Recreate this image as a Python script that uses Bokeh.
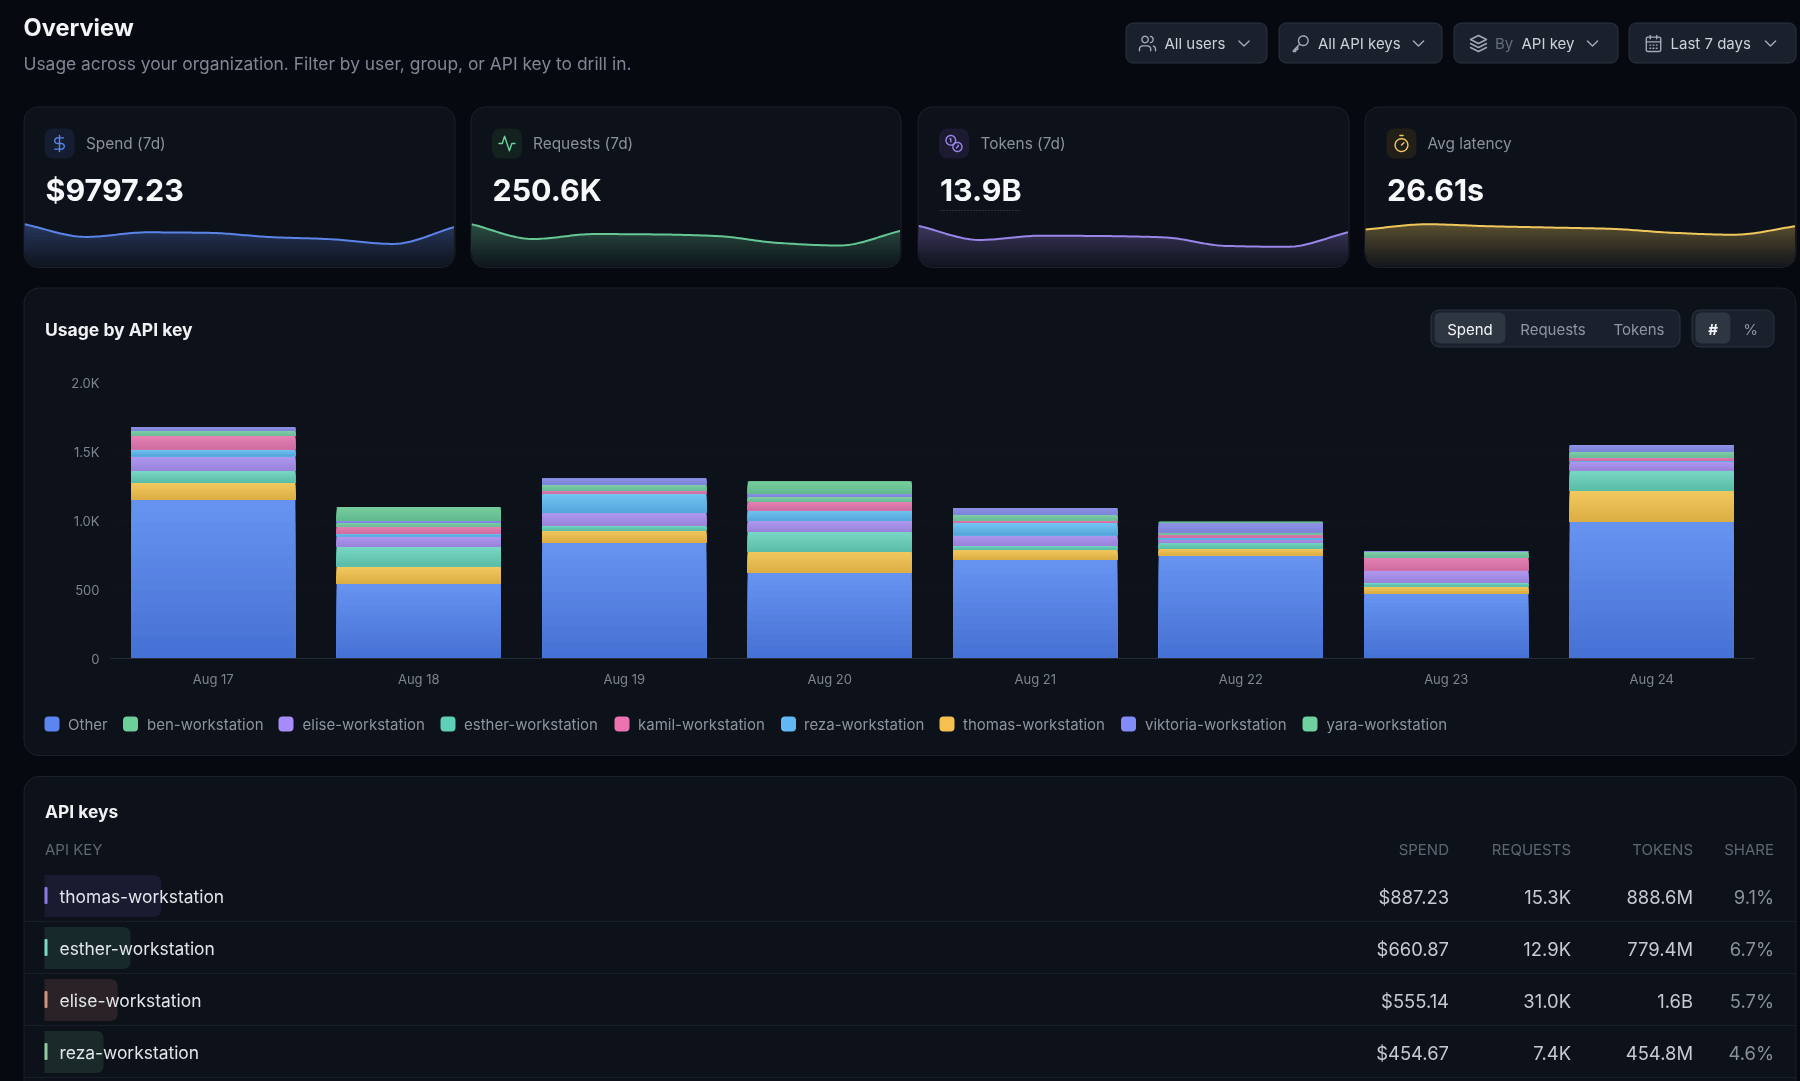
import numpy as np
from bokeh.core.properties import value
from bokeh.embed import file_html
from bokeh.resources import INLINE
from bokeh.models import ColumnDataSource, FactorRange, FixedTicker, Range1d
from bokeh.plotting import figure

# ---------- data ----------
days = ["Aug 17", "Aug 18", "Aug 19", "Aug 20", "Aug 21", "Aug 22", "Aug 23", "Aug 24"]
other    = [1151, 541, 839, 621, 715, 749, 470, 991]
thomas   = [121, 126, 90, 153, 75, 48, 53, 225]
esther   = [87, 145, 36, 143, 29, 46, 27, 148]
elise    = [107, 73, 90, 80, 75, 19, 85, 61]
reza     = [51, 19, 141, 78, 90, 17, 5, 10]
kamil    = [95, 53, 22, 63, 17, 22, 92, 22]
yara     = [41, 27, 44, 32, 44, 10, 41, 44]
viktoria = [22, 15, 44, 22, 46, 70, 5, 46]
ben      = [0, 99, 0, 92, 0, 10, 0, 0]
y_ticks = [0, 500, 1000, 1500, 2000]
y_tick_labels = ["0", "500", "1.0K", "1.5K", "2.0K"]

stack_names = ["Other", "thomas-workstation", "esther-workstation", "elise-workstation", "reza-workstation",
               "kamil-workstation", "yara-workstation", "viktoria-workstation", "ben-workstation"]
stack_values = [other, thomas, esther, elise, reza, kamil, yara, viktoria, ben]
legend_names = ["Other", "ben-workstation", "elise-workstation", "esther-workstation", "kamil-workstation",
                "reza-workstation", "thomas-workstation", "viktoria-workstation", "yara-workstation"]

spark_requests = [57.5, 24.3, 35.4, 34.6, 31.0, 15.5, 9.6, 42.7]
spark_tokens = [3.37, 1.39, 1.99, 1.94, 1.75, 0.55, 0.42, 2.49]
spark_latency = [26.41, 28.01, 27.41, 27.01, 26.61, 25.41, 24.81, 27.41]

card_labels = ["Spend (7d)", "Requests (7d)", "Tokens (7d)", "Avg latency"]
card_values = ["$9797.23", "250.6K", "13.9B", "26.61s"]

table_keys = ["thomas-workstation", "esther-workstation", "elise-workstation", "reza-workstation"]
table_spend = ["$887.23", "$660.87", "$555.14", "$454.67"]
table_requests = ["15.3K", "12.9K", "31.0K", "7.4K"]
table_tokens = ["888.6M", "779.4M", "1.6B", "454.8M"]
table_share = [9.1, 6.7, 5.7, 4.6]

# ---------- styles ----------
PAGE = "#070910"
PANEL = "#0d1119"
BORDER = "#1b212b"
FONT = "Inter"
BAR_TOP = {"Other": "#6692f0", "thomas-workstation": "#f1c85e", "esther-workstation": "#79d7c5",
           "elise-workstation": "#af97ee", "reza-workstation": "#74c4f2", "kamil-workstation": "#e581b2",
           "yara-workstation": "#7fd0a8", "viktoria-workstation": "#8d92e6", "ben-workstation": "#76cd9c"}
BAR_BOT = {"Other": "#4772d5", "thomas-workstation": "#dcae44", "esther-workstation": "#5abda7",
           "elise-workstation": "#9a84db", "reza-workstation": "#55a7db", "kamil-workstation": "#cf6ea3",
           "yara-workstation": "#6cbb98", "viktoria-workstation": "#7e84d9", "ben-workstation": "#62ba90"}
LEGEND_COL = {"Other": "#5b84f0", "ben-workstation": "#6ccf9a", "elise-workstation": "#a78bfa",
              "esther-workstation": "#5fd0b8", "kamil-workstation": "#ec72b0", "reza-workstation": "#60b8f5",
              "thomas-workstation": "#f5c04f", "viktoria-workstation": "#818cf8", "yara-workstation": "#6fd0a0"}


def hex2rgb(h):
    return np.array([int(h[i:i + 2], 16) for i in (1, 3, 5)], float)


def mix(a, b, t):
    c = hex2rgb(a) * (1 - t) + hex2rgb(b) * t
    return "#%02x%02x%02x" % tuple(int(round(v)) for v in c)


def fixed(x, y):
    return {"position": "fixed", "left": f"{x}px", "top": f"{y}px"}


# ---------- background page layer (pixel space, 2px past each window edge) ----------
bg = figure(width=1804, height=1085, x_range=Range1d(-2, 1802), y_range=Range1d(1083, -2),
            output_backend="svg", toolbar_location=None, min_border=0,
            background_fill_color=PAGE, border_fill_color=PAGE, outline_line_color=None, styles=fixed(-2, -2))
bg.axis.visible = False
bg.grid.visible = False


def box(l, r, t, b, fill, line=None, radius=0, alpha=1.0):
    bg.quad(left=[l], right=[r], top=[t], bottom=[b], fill_color=fill, fill_alpha=alpha,
            line_color=line, line_width=1 if line else 0, border_radius=radius)


def txt(x, y, s, size, color, align="left", bold=False):
    bg.text(x=[x], y=[y - 1], text=[s], text_font=value(FONT), text_font_size=f"{size}px", text_color=color,
            text_align=align, text_baseline="middle", text_font_style="bold" if bold else "normal")


def arc(cx, cy, r, a0, a1, n=14):
    a = np.radians(np.linspace(a0, a1, n))
    return list(zip(cx + r * np.cos(a), cy + r * np.sin(a)))


def circ(cx, cy, r):
    return arc(cx, cy, r, 0, 360, 28)


ICONS = {
    "dollar": [[(12, 2), (12, 22)],
               [(17, 5), (9.5, 5)] + arc(9.5, 8.5, 3.5, -90, -270) + [(14.5, 12)] + arc(14.5, 15.5, 3.5, -90, 90) + [(6, 19)]],
    "activity": [[(22, 12), (18, 12), (15, 21), (9, 3), (6, 12), (2, 12)]],
    "coins": [circ(8, 8, 6), circ(16.3, 16.3, 5.7), [(7, 6), (8, 6), (8, 10)], [(17, 14.2), (17.6, 15), (15, 17.6)]],
    "timer": [[(10, 2), (14, 2)], [(12, 14), (15, 11)], circ(12, 14, 8)],
    "users": [circ(9, 7, 4), [(16, 21), (16, 19)] + arc(12, 19, 4, 0, -90) + arc(6, 19, 4, -90, -180) + [(2, 21)],
              arc(15, 7, 4, -80, 80), [(22, 21), (22, 19)] + arc(18, 19, 4, 0, -70)],
    "key": [circ(15.5, 8.5, 6), [(11, 13), (3, 21), (3, 22), (6, 22), (6, 19.5), (8.5, 19.5), (8.5, 16.5)]],
    "layers": [[(12, 2), (22, 7), (12, 12), (2, 7), (12, 2)], [(2, 12), (12, 17), (22, 12)], [(2, 17), (12, 22), (22, 17)]],
    "calendar": [[(5, 4), (19, 4)] + arc(19, 6, 2, -90, 0, 5) + arc(19, 20, 2, 0, 90, 5) + arc(5, 20, 2, 90, 180, 5) + arc(5, 6, 2, 180, 270, 5),
                 [(16, 2), (16, 6)], [(8, 2), (8, 6)], [(3, 10), (21, 10)],
                 [(7.5, 14), (8.5, 14)], [(11.5, 14), (12.5, 14)], [(15.5, 14), (16.5, 14)],
                 [(7.5, 18), (8.5, 18)], [(11.5, 18), (12.5, 18)], [(15.5, 18), (16.5, 18)]],
    "chevron": [[(6, 9), (12, 15), (18, 9)]],
}


def icon(name, cx, cy, color, scale=0.8, width=1.4):
    xs, ys = [], []
    for poly in ICONS[name]:
        xs.append([cx + (px - 12) * scale for px, _ in poly])
        ys.append([cy + (py - 12) * scale for _, py in poly])
    bg.multi_line(xs=xs, ys=ys, line_color=color, line_width=width, line_join="round", line_cap="round")


# header
txt(23, 28, "Overview", 23.6, "#f3f4f6", bold=True)
txt(23, 64, "Usage across your organization. Filter by user, group, or API key to drill in.", 17.4, "#7f8694")

BTN_FILL, BTN_LINE = "#1a212c", "#2b3441"
ICON_COL, BTN_TXT = "#a3aab6", "#cdd2da"
for (l, r, ic, ix, tx, label, chev) in [
    (1125, 1266, "users", 1147, 1164, "All users", 1243.5),
    (1278, 1441, "key", 1300, 1317.5, "All API keys", 1418),
    (1453, 1617, "layers", 1478, 1521, "API key", 1592),
    (1628, 1795, "calendar", 1653, 1670, "Last 7 days", 1770),
]:
    box(l + .5, r + .5, 22.5, 62.5, BTN_FILL, BTN_LINE, 7)
    icon(ic, ix, 43, ICON_COL)
    txt(tx, 43.5, label, 15, BTN_TXT)
    icon("chevron", chev, 43, ICON_COL, scale=0.85)
txt(1494.5, 43.5, "By", 15, "#646c79")

# cards
CARDS = [(23, 454), (470, 900), (917, 1348), (1364, 1795)]
ICON_X = [59, 506.5, 953.5, 1401]
LABEL_X = [85.5, 532.5, 980, 1427]
VALUE_X = [45, 492, 939.5, 1386.5]
TILE = ["#141d31", "#13221f", "#1b1a31", "#221f18"]
ICON_NAME = ["dollar", "activity", "coins", "timer"]
ICON_COLOR = ["#5b84e8", "#6fd0a0", "#9a85e8", "#f0c75c"]
for i, (l, r) in enumerate(CARDS):
    box(l + .5, r + .5, 106.5, 267, PANEL, BORDER, 14)
    box(ICON_X[i] - 15, ICON_X[i] + 15, 128, 158, TILE[i], None, 8)
    icon(ICON_NAME[i], ICON_X[i], 143, ICON_COLOR[i])
    txt(LABEL_X[i], 144, card_labels[i], 15.4, "#8a909c")
    txt(VALUE_X[i], 190, card_values[i], 30.4, "#f7f8f9", bold=True)
bg.line(x=[940, 1020.5], y=[210, 210], line_color="#4d5461", line_width=1, line_dash=[1, 2])

# chart panel
box(23.5, 1795.5, 287.5, 755, PANEL, BORDER, 15)
txt(44.5, 329.5, "Usage by API key", 17.5, "#f0f1f3", bold=True)
box(1430.5, 1679.5, 309.5, 346.5, BTN_FILL, BTN_LINE, 8)
box(1434, 1505, 312, 343, "#2d3641", None, 6)
txt(1469.5, 329.5, "Spend", 15, "#f3f4f6", "center")
txt(1552.5, 329.5, "Requests", 15, "#8f96a3", "center")
txt(1638.5, 329.5, "Tokens", 15, "#8f96a3", "center")
box(1691.5, 1773.5, 309.5, 346.5, BTN_FILL, BTN_LINE, 8)
box(1695, 1730, 312, 343, "#2d3641", None, 6)
txt(1712.5, 329.5, "#", 15, "#f3f4f6", "center", bold=True)
txt(1750, 329.5, "%", 15, "#8f96a3", "center")

LEGEND_X = [44, 122.5, 278, 440, 614, 780.5, 939, 1120.5, 1302]
LEGEND_TX = [67.5, 146.5, 302, 463.5, 637.5, 803.5, 962.5, 1144.5, 1326]
for name, cx, tx in zip(legend_names, LEGEND_X, LEGEND_TX):
    box(cx, cx + 15, 716, 731, LEGEND_COL[name], None, 4)
    txt(tx, 725, name, 15, "#8d939f")

# table panel
box(23.5, 1795.5, 776, 1095, PANEL, BORDER, 15)
txt(44.5, 812, "API keys", 17.4, "#f0f1f3", bold=True)
HEAD = "#5f6672"
txt(44.5, 850, "API KEY", 15, HEAD)
COLS = [1448.5, 1570.5, 1692.5, 1773.5]
for x, h in zip(COLS, ["SPEND", "REQUESTS", "TOKENS", "SHARE"]):
    txt(x, 850, h, 15, HEAD, "right")

ROW_Y = [895.5, 947.5, 999.5, 1051.5]
ROW_TILE = ["#1a1a30", "#18292c", "#2a2226", "#1a2a28"]
ROW_TICK = ["#8b78e0", "#7fd8c0", "#d0917e", "#92c9a0"]
SHARE_PX = 12.83
for i, y in enumerate(ROW_Y):
    bg.quad(left=[44], right=[44 + table_share[i] * SHARE_PX], top=[y - 21], bottom=[y + 21],
            fill_color=ROW_TILE[i], line_color=None, border_radius=(0, 7, 7, 0))
    box(44, 47, y - 9, y + 8, ROW_TICK[i], None, 1)
    ty = y + 1.5
    txt(59, ty, table_keys[i], 17.4, "#e2e5e9")
    txt(COLS[0], ty, table_spend[i], 18.4, "#c6cad2", "right")
    txt(COLS[1], ty, table_requests[i], 18.4, "#c6cad2", "right")
    txt(COLS[2], ty, table_tokens[i], 18.4, "#c6cad2", "right")
    txt(COLS[3], ty, f"{table_share[i]}%", 18.4, "#8a909c", "right")
    bg.line(x=[24, 1795], y=[y + 25.5, y + 25.5], line_color="#191f29", line_width=1)

# ---------- stacked bars ----------
BAR_W = 0.798
chart = figure(width=1734, height=326, x_range=FactorRange(factors=days), y_range=Range1d(0, 2000),
               output_backend="svg", toolbar_location=None, min_border_left=80, min_border_right=10,
               min_border_top=10, min_border_bottom=40, background_fill_alpha=0, border_fill_alpha=0,
               outline_line_color=None, styles=fixed(30, 372))
src = ColumnDataSource(dict(day=days, **{n: v for n, v in zip(stack_names, stack_values)}))
chart.vbar_stack(stack_names, x="day", width=BAR_W, source=src, line_width=0, line_color=None,
                 color=[mix(BAR_TOP[n], BAR_BOT[n], .5) for n in stack_names])

# vertical shading of every stack segment, painted from its top strip downwards
STRIPS = 14
rows = dict(x=[], bottom=[], top=[], color=[])
top_rows = dict(x=[], bottom=[], top=[], color=[])
base = np.zeros(len(days))
for name, vals in zip(stack_names, stack_values):
    target = top_rows if name == "ben-workstation" else rows
    for d, b, v in zip(days, base, vals):
        if v <= 0:
            continue
        for k in range(STRIPS):
            target["x"].append(d)
            target["bottom"].append(float(b))
            target["top"].append(float(b + v * (1 - k / STRIPS)))
            target["color"].append(mix(BAR_TOP[name], BAR_BOT[name], k / (STRIPS - 1)))
    base = base + np.array(vals)
chart.vbar(x="x", bottom="bottom", top="top", width=BAR_W, color="color", line_width=0, line_color=None,
           source=ColumnDataSource(rows))
chart.vbar(x="x", bottom="bottom", top="top", width=BAR_W, color="color", line_width=0, line_color=None,
           border_radius=(4, 4, 0, 0), source=ColumnDataSource(top_rows))

chart.xgrid.visible = False
chart.ygrid.grid_line_color = "#121721"
chart.ygrid.grid_line_dash = [2, 3]
chart.ygrid.ticker = FixedTicker(ticks=y_ticks[1:])
chart.yaxis.ticker = FixedTicker(ticks=y_ticks)
chart.yaxis.major_label_overrides = {t: s for t, s in zip(y_ticks, y_tick_labels)}
chart.yaxis.axis_line_color = None
chart.xaxis.axis_line_color = "#242b36"
chart.axis.major_tick_line_color = None
chart.axis.minor_tick_line_color = None
chart.axis.major_label_text_color = "#7e8490"
chart.axis.major_label_text_font = FONT
chart.axis.major_label_text_font_size = "13px"
chart.yaxis.major_label_standoff = 5
chart.xaxis.major_label_standoff = 6

# ---------- sparklines ----------
spend_totals = [sum(v) for v in zip(*stack_values)]
SPARK_TOP, SPARK_BOTTOM = 210, 266
SPARKS = [
    (spend_totals, (-253, 2303), "#5b84e8"),
    (spark_requests, (-37.6, 88.4), "#66c794"),
    (spark_tokens, (-2.355, 5.54), "#9a85e8"),
    (spark_latency, (15.11, 32.21), "#f0c75c"),
]


def monotone_curve(v, per_segment=24):
    """Evaluate the monotone cubic through the daily values, the way the sparkline is drawn."""
    v = np.asarray(v, float)
    d = np.diff(v)
    m = np.zeros(len(v))
    m[0], m[-1] = d[0], d[-1]
    for i in range(1, len(v) - 1):
        m[i] = 0.0 if d[i - 1] * d[i] <= 0 else 2 * d[i - 1] * d[i] / (d[i - 1] + d[i])
    xs, ys = [], []
    for i in range(len(v) - 1):
        t = np.linspace(0, 1, per_segment, endpoint=False)
        h00, h10, h01, h11 = 2 * t**3 - 3 * t**2 + 1, t**3 - 2 * t**2 + t, -2 * t**3 + 3 * t**2, t**3 - t**2
        xs.extend(i + t)
        ys.extend(h00 * v[i] + h10 * m[i] + h01 * v[i + 1] + h11 * m[i + 1])
    xs.append(len(v) - 1.0)
    ys.append(v[-1])
    return np.array(xs), np.array(ys)


spark_figs = []
for (l, r), (vals, (lo, hi), col) in zip(CARDS, SPARKS):
    W, H = r - l - 1, SPARK_BOTTOM - SPARK_TOP
    f = figure(width=W, height=H, x_range=Range1d(0, 7), y_range=Range1d(lo, hi), output_backend="svg",
               toolbar_location=None, min_border=0, background_fill_alpha=0, border_fill_alpha=0,
               outline_line_color=None, styles=fixed(l + 1, SPARK_TOP))
    f.axis.visible = False
    f.grid.visible = False
    cx, cy = monotone_curve(vals)
    per_px = (hi - lo) / H
    # the card's rounded lower corners limit the filled area
    px = cx / 7 * W
    R = 14.0
    dx = np.maximum(0, np.maximum(R - px, px - (W - R)))
    lift = (R - np.sqrt(np.maximum(0, R * R - dx * dx))) * per_px
    floor = lo + lift
    bands = 24
    top_px = (hi - cy.max()) / per_px
    for k in range(bands):
        band_v = hi - (top_px + (H - top_px) * k / bands) * per_px
        shade = mix(PANEL, col, 0.30 * (1 - k / bands) ** 1.2 + 0.035)
        upper = np.maximum(np.minimum(cy, band_v), floor)
        f.varea(x=cx, y1=floor, y2=upper, fill_color=shade)
    f.line(x=cx, y=cy, line_color=col, line_width=2, line_join="round")
    spark_figs.append(f)

p = [bg, chart, *spark_figs]
open("out.html", "w").write(file_html(p, INLINE))
